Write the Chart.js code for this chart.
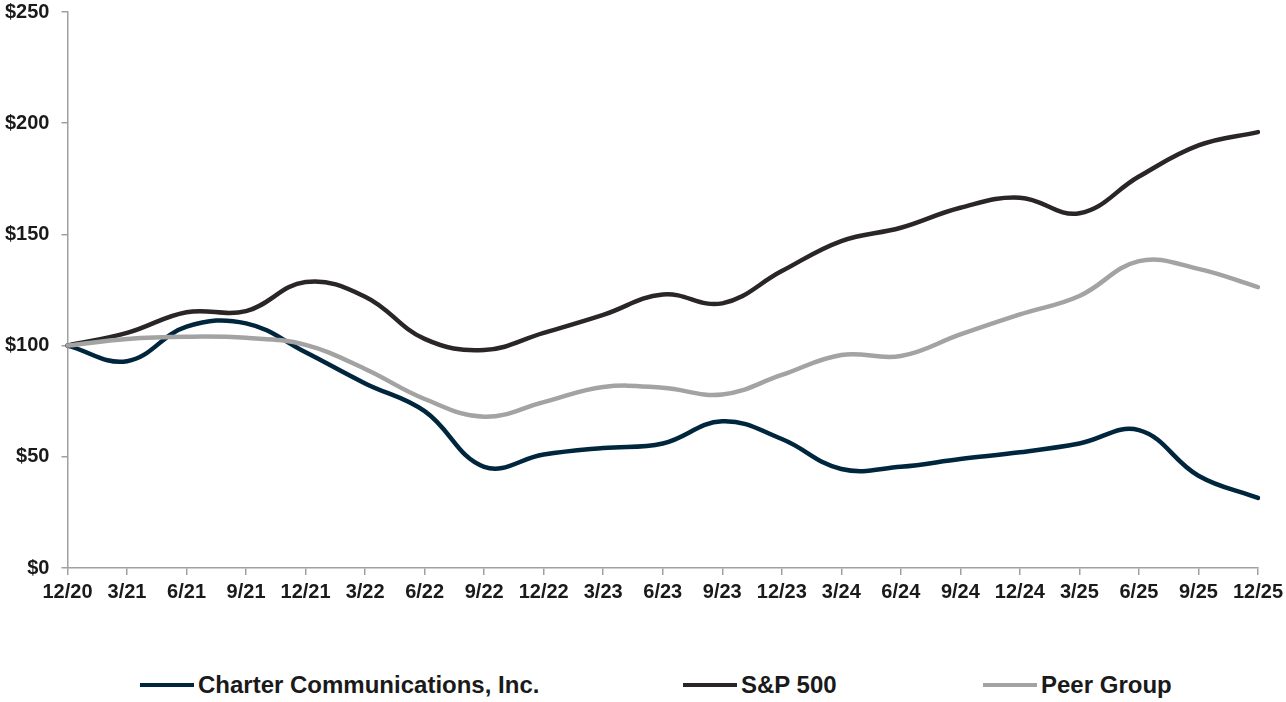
<!DOCTYPE html>
<html>
<head>
<meta charset="utf-8">
<script src="https://cdn.jsdelivr.net/npm/chart.js@4"></script>
<style>
  body { margin: 0; background: #fff; overflow: hidden; }
  #wrap { position: relative; width: 1286px; height: 702px; overflow: hidden; }
  #chart-box { position: absolute; left: -10px; top: -12px; width: 1298px; height: 621px; }
  .legend-item { position: absolute; top: 671px; font: bold 24px "Liberation Sans", Arial, sans-serif; color: #1a1a1a; white-space: nowrap; }
  .legend-item span { display: inline-block; width: 54px; height: 4px; vertical-align: middle; margin-right: 4px; position: relative; top: -2px; }
</style>
</head>
<body>
<div id="wrap">
  <div id="chart-box"><canvas id="perf-chart"></canvas></div>
  <div class="legend-item" style="left:140px"><span style="background:#00263e"></span>Charter Communications, Inc.</div>
  <div class="legend-item" style="left:683px"><span style="background:#2b2626"></span>S&amp;P 500</div>
  <div class="legend-item" style="left:983px"><span style="background:#a3a3a3"></span>Peer Group</div>
</div>
<script>
const quarters = ["12/20", "3/21", "6/21", "9/21", "12/21", "3/22", "6/22", "9/22", "12/22", "3/23", "6/23",
    "9/23", "12/23", "3/24", "6/24", "9/24", "12/24", "3/25", "6/25", "9/25", "12/25"];

const charter = [100, 93, 108.5, 110, 97, 83, 70.5, 45.5, 51, 54, 56, 66, 58, 44.5, 45.5, 49, 52, 56, 62, 41.5, 31.5];
const sp500 = [100, 105.7, 115, 115.5, 128.6, 122, 103, 98, 105.7, 113.8, 123, 119, 133.5, 147, 153, 162, 166.5, 159.5, 176, 190, 196];
const peerGroup = [100, 103, 104, 103.5, 100.3, 89.5, 76, 68, 74.6, 81.4, 81, 78, 86.8, 95.8, 95.3, 105, 114, 122.3, 138, 134.5, 126.3];

const yTicks = [0, 50, 100, 150, 200, 250];

const tickFont = { family: "'Liberation Sans', Arial, sans-serif", size: 20, weight: 'bold' };

const data = {
    labels: quarters,
    datasets: [
        { label: 'Peer Group', data: peerGroup, borderColor: '#a3a3a3', order: 0 },
        { label: 'S&P 500', data: sp500, borderColor: '#2b2626', order: 1 },
        { label: 'Charter Communications, Inc.', data: charter, borderColor: '#00263e', order: 2 }
    ]
};

data.datasets.forEach(function (ds) {
    ds.borderWidth = 4.5;
    ds.tension = 0.4;
    ds.pointRadius = 0;
    ds.fill = false;
    ds.borderCapStyle = 'round';
});

const config = {
    type: 'line',
    data: data,
    options: {
        responsive: true,
        maintainAspectRatio: false,
        animation: false,
        layout: { padding: { left: 3, right: 4, top: 2, bottom: 0 } },
        plugins: {
            legend: { display: false },
            tooltip: { enabled: false }
        },
        scales: {
            x: {
                offset: false,
                border: { color: '#a0a0a0', width: 1.5 },
                grid: { drawOnChartArea: false, drawTicks: true, tickLength: 7, color: '#a0a0a0', lineWidth: 1.5 },
                ticks: { color: '#1a1a1a', font: tickFont, maxRotation: 0, autoSkip: false, padding: 5 }
            },
            y: {
                min: 0,
                max: 250,
                border: { color: '#a0a0a0', width: 1.5 },
                grid: { drawOnChartArea: false, drawTicks: true, tickLength: 6, color: '#a0a0a0', lineWidth: 1.5 },
                afterBuildTicks: function (axis) {
                    axis.ticks = yTicks.map(function (v) { return { value: v }; });
                },
                ticks: {
                    color: '#1a1a1a',
                    font: tickFont,
                    padding: 12,
                    callback: function (v) { return '$' + v; }
                }
            }
        }
    }
};

const myChart = new Chart(document.getElementById('perf-chart'), config);
</script>
</body>
</html>
